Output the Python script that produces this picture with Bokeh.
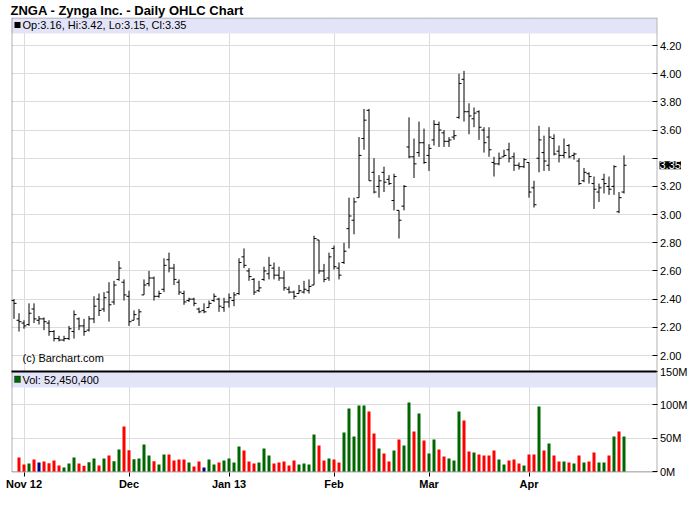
import numpy as np
import pandas as pd
from bokeh.plotting import figure
from bokeh.models import (Range1d, LinearAxis, FixedTicker, Grid, ColumnDataSource,
                          BoxAnnotation, Label, Title)
from bokeh.embed import file_html
from bokeh.resources import INLINE

# ---------------- data ----------------
TITLE = "ZNGA - Zynga Inc. - Daily OHLC Chart"
HOLIDAYS = ["2012-10-29", "2012-10-30", "2012-11-22", "2012-12-25",
            "2013-01-01", "2013-01-21", "2013-02-18", "2013-03-29"]
dates = [d for d in pd.bdate_range("2012-10-26", "2013-04-26")
         if d.strftime("%Y-%m-%d") not in HOLIDAYS]

opens = [2.39, 2.25, 2.23, 2.22, 2.33, 2.25, 2.26, 2.23, 2.17, 2.12,
         2.11, 2.12, 2.17, 2.26, 2.21, 2.18, 2.26, 2.40, 2.33, 2.45,
         2.38, 2.54, 2.52, 2.42, 2.25, 2.26, 2.43, 2.51, 2.55, 2.42,
         2.47, 2.68, 2.62, 2.52, 2.44, 2.39, 2.40, 2.33, 2.32, 2.34,
         2.39, 2.40, 2.34, 2.38, 2.39, 2.44, 2.70, 2.60, 2.54, 2.46,
         2.54, 2.58, 2.62, 2.57, 2.55, 2.47, 2.45, 2.44, 2.45, 2.46,
         2.50, 2.82, 2.60, 2.55, 2.76, 2.62, 2.66, 2.90, 2.96, 3.12,
         3.54, 3.74, 3.30, 3.20, 3.30, 3.25, 3.10, 3.03, 3.06, 3.48,
         3.41, 3.44, 3.51, 3.42, 3.53, 3.64, 3.58, 3.52, 3.55, 3.69,
         3.96, 3.73, 3.68, 3.73, 3.60, 3.55, 3.37, 3.36, 3.41, 3.46,
         3.41, 3.35, 3.34, 3.37, 3.19, 3.40, 3.44, 3.35, 3.54, 3.45,
         3.42, 3.49, 3.42, 3.38, 3.24, 3.29, 3.22, 3.16, 3.25, 3.20,
         3.20, 3.02, 3.16]
highs = [2.40, 2.30, 2.25, 2.37, 2.37, 2.28, 2.27, 2.25, 2.18, 2.14,
         2.14, 2.21, 2.32, 2.27, 2.26, 2.28, 2.42, 2.44, 2.45, 2.52,
         2.53, 2.67, 2.54, 2.46, 2.32, 2.33, 2.54, 2.60, 2.56, 2.46,
         2.69, 2.73, 2.65, 2.54, 2.46, 2.41, 2.41, 2.34, 2.37, 2.39,
         2.44, 2.41, 2.41, 2.44, 2.45, 2.69, 2.76, 2.62, 2.55, 2.53,
         2.63, 2.70, 2.66, 2.63, 2.60, 2.49, 2.46, 2.50, 2.53, 2.54,
         2.85, 2.82, 2.65, 2.73, 2.78, 2.66, 2.80, 3.12, 3.12, 3.55,
         3.75, 3.75, 3.40, 3.28, 3.34, 3.28, 3.29, 3.03, 3.21, 3.69,
         3.54, 3.66, 3.61, 3.50, 3.67, 3.66, 3.60, 3.55, 3.60, 4.00,
         4.02, 3.79, 3.76, 3.74, 3.62, 3.62, 3.41, 3.44, 3.46, 3.51,
         3.44, 3.37, 3.40, 3.37, 3.24, 3.63, 3.56, 3.62, 3.57, 3.49,
         3.54, 3.50, 3.44, 3.40, 3.33, 3.30, 3.27, 3.22, 3.29, 3.27,
         3.35, 3.16, 3.42]
lows = [2.26, 2.17, 2.19, 2.21, 2.23, 2.22, 2.18, 2.14, 2.10, 2.10,
        2.10, 2.11, 2.12, 2.18, 2.14, 2.17, 2.23, 2.28, 2.31, 2.24,
        2.36, 2.53, 2.39, 2.21, 2.25, 2.21, 2.43, 2.49, 2.39, 2.41,
        2.45, 2.59, 2.50, 2.43, 2.36, 2.38, 2.35, 2.30, 2.30, 2.34,
        2.38, 2.31, 2.31, 2.34, 2.35, 2.43, 2.62, 2.53, 2.43, 2.45,
        2.53, 2.54, 2.54, 2.53, 2.46, 2.44, 2.40, 2.44, 2.44, 2.44,
        2.50, 2.58, 2.52, 2.53, 2.61, 2.54, 2.65, 2.76, 2.86, 3.12,
        3.46, 3.24, 3.15, 3.12, 3.16, 3.21, 3.03, 2.83, 3.03, 3.40,
        3.26, 3.41, 3.36, 3.31, 3.49, 3.48, 3.48, 3.48, 3.53, 3.68,
        3.66, 3.57, 3.62, 3.53, 3.44, 3.41, 3.27, 3.35, 3.41, 3.37,
        3.31, 3.32, 3.33, 3.12, 3.05, 3.30, 3.31, 3.31, 3.42, 3.37,
        3.40, 3.40, 3.39, 3.21, 3.23, 3.22, 3.04, 3.09, 3.15, 3.14,
        3.14, 3.01, 3.15]
closes = [2.37, 2.24, 2.21, 2.30, 2.26, 2.26, 2.24, 2.17, 2.12, 2.11,
          2.12, 2.19, 2.29, 2.21, 2.17, 2.26, 2.35, 2.32, 2.41, 2.36,
          2.50, 2.62, 2.43, 2.24, 2.29, 2.31, 2.50, 2.55, 2.42, 2.44,
          2.64, 2.62, 2.54, 2.45, 2.38, 2.40, 2.37, 2.31, 2.31, 2.37,
          2.42, 2.35, 2.38, 2.41, 2.43, 2.66, 2.64, 2.56, 2.45, 2.48,
          2.60, 2.64, 2.57, 2.55, 2.48, 2.45, 2.42, 2.46, 2.47, 2.49,
          2.83, 2.60, 2.54, 2.70, 2.63, 2.57, 2.74, 2.99, 3.09, 3.42,
          3.67, 3.24, 3.16, 3.24, 3.23, 3.22, 3.27, 2.96, 3.20, 3.41,
          3.36, 3.51, 3.37, 3.47, 3.64, 3.60, 3.52, 3.53, 3.56, 3.93,
          3.73, 3.70, 3.72, 3.62, 3.51, 3.46, 3.36, 3.40, 3.42, 3.40,
          3.35, 3.34, 3.39, 3.16, 3.07, 3.53, 3.38, 3.55, 3.43, 3.42,
          3.44, 3.41, 3.43, 3.22, 3.30, 3.27, 3.18, 3.19, 3.22, 3.18,
          3.34, 3.12, 3.35]
# volume in millions of shares (first bar has no volume shown)
volumes_m = [None,
             21, 10.5, 12, 18, 13.5, 15, 12.5, 16.5, 9, 6,
             12, 21, 12, 8.5, 14, 19.5, 9, 19.5, 24, 15.5,
             33, 67.5, 32, 18.5, 19.5, 40.5, 24, 15.5, 10.5, 25.5,
             25.5, 16.5, 18, 18, 13.5, 7.5, 15, 6, 18, 10.5,
             13.5, 16.5, 19.5, 13.5, 37.5, 31.5, 15, 12, 13.5, 34.5,
             24, 12, 13.5, 15, 9, 16.5, 10.5, 12, 10.5, 55.5,
             39, 16.5, 19.5, 18, 13.5, 58.5, 94.5, 52.5, 99, 99,
             90, 57, 34.5, 27, 15, 31.5, 48, 39, 103.5, 60,
             87, 46.5, 27, 48, 33, 22.5, 19.5, 16.5, 90, 76.5,
             30, 28.5, 25.5, 24, 24, 31.5, 18, 10.5, 16.5, 18,
             12, 9, 25.5, 25.5, 97.5, 31.5, 42, 24, 15, 15,
             13.5, 12, 24, 13.5, 15, 28.5, 13.5, 13.5, 24, 52.5,
             60, 52.4504]

price_ticks = [2.00, 2.20, 2.40, 2.60, 2.80, 3.00, 3.20, 3.40, 3.60, 3.80, 4.00, 4.20]
volume_ticks_m = [0, 50, 100, 150]
month_labels = ["Nov 12", "Dec", "Jan 13", "Feb", "Mar", "Apr"]

# ---------------- layout constants (pixels) ----------------
W, H = 700, 512
FRAME_T = 17                        # below the title; the frame fills the rest of the canvas
CHART_L, CHART_R, CHART_B = 11, 656, 471   # chart box edges
BAR_PX = 5.0
FIRST_BAR_PX = 13.5
PRICE_TOP_TICK_PX, PRICE_BOT_TICK_PX = 45, 355
VOL_TOP_PX = 371

FONT = "Liberation Sans"
GRID = "#DCDCDC"
LAVENDER = "#E4E4F8"
UP, DOWN, FLAT = "#006600", "#FF0000", "#000080"

n = len(dates)
pos = np.arange(n, dtype=float)
o = np.array(opens); h = np.array(highs); l = np.array(lows); c = np.array(closes)
vol = np.array(volumes_m, dtype=float)

x_start = -FIRST_BAR_PX / BAR_PX
x_end = x_start + W / BAR_PX
ppu = (PRICE_BOT_TICK_PX - PRICE_TOP_TICK_PX) / (max(price_ticks) - min(price_ticks))
y_end = max(price_ticks) + (PRICE_TOP_TICK_PX - FRAME_T) / ppu
y_start = min(price_ticks) - (H - PRICE_BOT_TICK_PX) / ppu
vppu = (CHART_B - VOL_TOP_PX) / max(volume_ticks_m)
v_start = -(H - CHART_B) / vppu
v_end = v_start + (H - FRAME_T) / vppu


def px_x(px):
    return x_start + px / BAR_PX


def py_price(py):
    return y_end - (py - FRAME_T) / ppu


def vol_as_price(v):
    return py_price(CHART_B) + v * vppu / ppu


title = Title(text=TITLE, align="left", offset=CHART_L - 1, standoff=0, text_font=FONT,
              text_font_size="13px", text_font_style="bold", text_color="black")

p = figure(width=W, height=H, x_range=Range1d(x_start, x_end), y_range=Range1d(y_start, y_end),
           x_axis_type=None, y_axis_type=None, output_backend="svg", toolbar_location=None,
           min_border_left=0, min_border_right=0, min_border_top=FRAME_T, min_border_bottom=0,
           background_fill_color="white", border_fill_color="white",
           outline_line_color=None, title=title)
p.extra_y_ranges = {"vol": Range1d(v_start, v_end)}

# grids
month_pos = [i for i in range(1, n) if dates[i].month != dates[i - 1].month]
vol_tick_prices = [vol_as_price(v) for v in volume_ticks_m]
y_ticks = list(price_ticks) + vol_tick_prices
p.add_layout(Grid(dimension=0, ticker=FixedTicker(ticks=month_pos), grid_line_color=GRID))
p.add_layout(Grid(dimension=1, ticker=FixedTicker(ticks=y_ticks), grid_line_color=GRID))
# scale strips outside the chart box stay white
for kw in (dict(left=px_x(CHART_R + 0.5)), dict(right=px_x(CHART_L + 0.5)),
           dict(top=py_price(CHART_B + 0.5))):
    p.add_layout(BoxAnnotation(fill_color="white", fill_alpha=1, line_color=None,
                               level="underlay", **kw))

# volume bars
diff = np.r_[np.nan, np.diff(c)]
vcolors = [UP if d > 0 else (DOWN if d < 0 else FLAT) for d in diff]
vsrc = ColumnDataSource(dict(x=pos[1:], top=vol[1:], color=vcolors[1:]))
p.vbar(x="x", top="top", bottom=0, width=0.6, source=vsrc, y_range_name="vol",
       fill_color="color", line_color=None)

# OHLC bars
src = ColumnDataSource(dict(x=pos, xl=pos - 0.5, xr=pos + 0.5, o=o, h=h, l=l, c=c))
p.segment(x0="x", y0="l", x1="x", y1="h", source=src, line_color="black", line_width=1)
p.segment(x0="xl", y0="o", x1="x", y1="o", source=src, line_color="black", line_width=1)
p.segment(x0="x", y0="c", x1="xr", y1="c", source=src, line_color="black", line_width=1)

# legend bands
p.add_layout(BoxAnnotation(bottom=py_price(33), left=px_x(CHART_L), right=px_x(CHART_R),
                           fill_color=LAVENDER, fill_alpha=1, line_color=None, level="overlay"))
p.add_layout(BoxAnnotation(top=py_price(VOL_TOP_PX), bottom=py_price(387), left=px_x(CHART_L),
                           right=px_x(CHART_R), fill_color=LAVENDER, fill_alpha=1,
                           line_color=None, level="overlay"))
# panel separator
p.add_layout(BoxAnnotation(top=py_price(VOL_TOP_PX - 1), bottom=py_price(VOL_TOP_PX + 1),
                           left=px_x(CHART_L), right=px_x(CHART_R), fill_color="black",
                           fill_alpha=1, line_color=None, level="overlay"))
# chart box
p.add_layout(BoxAnnotation(left=px_x(CHART_L + 0.5), right=px_x(CHART_R + 0.5),
                           top=py_price(FRAME_T + 0.5), bottom=py_price(CHART_B + 0.5),
                           fill_color=None, line_color="black", line_width=1, level="overlay"))
# legend swatches
p.add_layout(BoxAnnotation(left=px_x(14), right=px_x(20), top=py_price(21.5), bottom=py_price(27.5),
                           fill_color="black", fill_alpha=1, line_color=None, level="overlay"))
p.add_layout(BoxAnnotation(left=px_x(14), right=px_x(20), top=py_price(375.5), bottom=py_price(382),
                           fill_color=UP, fill_alpha=1, line_color="black", line_width=1,
                           level="overlay"))

legend_txt = "Op:%.2f, Hi:%.2f, Lo:%.2f, Cl:%.2f" % (o[-1], h[-1], l[-1], c[-1])
vol_txt = "Vol: {:,}".format(int(round(vol[-1] * 1e6)))
common = dict(text_font=FONT, text_font_size="11px", text_color="black", text_baseline="middle",
              level="overlay")
p.add_layout(Label(x=px_x(22), y=py_price(24.5), text=legend_txt, **common))
p.add_layout(Label(x=px_x(22), y=py_price(379), text=vol_txt, **common))
p.add_layout(Label(x=px_x(22), y=py_price(357), text="(c) Barchart.com", **common))

# right price / volume scale, drawn at the chart box edge
y_labels = {}
for t in price_ticks:
    y_labels[t] = "" if abs(t - c[-1]) < 0.07 else "%.2f" % t
for v, tp in zip(volume_ticks_m, vol_tick_prices):
    y_labels[tp] = "%dM" % v
yaxis = LinearAxis(ticker=FixedTicker(ticks=y_ticks), major_label_overrides=y_labels,
                   fixed_location=px_x(CHART_R + 0.5), axis_line_color=None,
                   major_tick_in=5, major_tick_out=0,
                   minor_tick_in=0, minor_tick_out=0, major_tick_line_color="black",
                   major_label_standoff=3, major_label_text_font=FONT,
                   major_label_text_font_size="11px", major_label_text_color="black")
p.add_layout(yaxis, "right")

# last close badge on the price scale
p.add_layout(Label(x=px_x(CHART_R), y=c[-1], x_offset=3, text="%.2f" % c[-1], text_font=FONT,
                   text_font_size="11px", text_color="white", text_baseline="middle",
                   background_fill_color="black", background_fill_alpha=1, level="overlay"))

# bottom date axis, drawn at the chart box edge
xaxis = LinearAxis(ticker=FixedTicker(ticks=month_pos), fixed_location=py_price(CHART_B + 0.5),
                   major_label_overrides={int(k): lab for k, lab in zip(month_pos, month_labels)},
                   axis_line_color=None, major_tick_in=0, major_tick_out=4,
                   minor_tick_in=0, minor_tick_out=0, major_tick_line_color="black",
                   major_label_standoff=2, major_label_text_font=FONT,
                   major_label_text_font_size="11px", major_label_text_font_style="bold",
                   major_label_text_color="black")
p.add_layout(xaxis, "below")

html = file_html(p, INLINE, title="ZNGA Daily OHLC")
html = html.replace("<head>", "<head><style>html,body{margin:0;padding:0;overflow:hidden}</style>", 1)
open("out.html", "w").write(html)
